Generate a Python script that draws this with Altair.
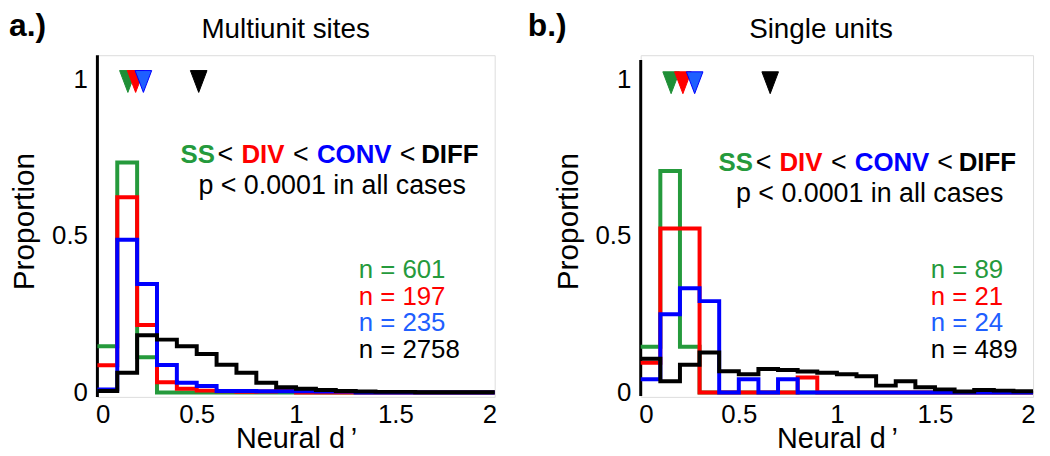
import altair as alt
import pandas as pd

# ---------------- data ----------------
BIN_START = [0.0, 0.1, 0.2, 0.3, 0.4, 0.5, 0.6, 0.7, 0.8, 0.9,
             1.0, 1.1, 1.2, 1.3, 1.4, 1.5, 1.6, 1.7, 1.8, 1.9]
BIN_END = 2.0

# a.) Multiunit sites
L_SS = [0.148, 0.735, 0.113, 0, 0, 0, 0, 0, 0, 0, 0, 0, 0, 0, 0, 0, 0, 0, 0, 0]
L_DIV = [0.087, 0.624, 0.216, 0.033, 0.012, 0.006, 0.004, 0.002, 0.003, 0.007,
         0, 0, 0, 0, 0, 0, 0, 0, 0, 0]
L_CONV = [0.010, 0.488, 0.347, 0.088, 0.031, 0.021, 0.005, 0.005, 0.004, 0.004,
          0.004, 0.003, 0.003, 0, 0, 0, 0, 0, 0, 0]
L_DIFF = [0.005, 0.063, 0.183, 0.169, 0.148, 0.123, 0.089, 0.063, 0.031, 0.017,
          0.012, 0.008, 0.005, 0.003, 0.002, 0.002, 0.001, 0.001, 0.001, 0.001]

# b.) Single units
R_SS = [0.146, 0.708, 0.146, 0, 0, 0, 0, 0, 0, 0, 0, 0, 0, 0, 0, 0, 0, 0, 0, 0]
R_DIV = [0.095, 0.524, 0.524, 0, 0, 0, 0, 0, 0.048, 0, 0, 0, 0, 0, 0, 0, 0, 0, 0, 0]
R_CONV = [0.042, 0.250, 0.333, 0.292, 0, 0.042, 0, 0.042, 0, 0, 0, 0, 0, 0, 0, 0, 0, 0, 0, 0]
R_DIFF = [0.108, 0.036, 0.089, 0.128, 0.068, 0.058, 0.075, 0.072, 0.067, 0.063,
          0.058, 0.052, 0.022, 0.036, 0.017, 0.010, 0.003, 0.008, 0.006, 0.004]

SERIES = ["SS", "DIV", "CONV", "DIFF"]
LINE_COLORS = ["#259a3c", "#ff0000", "#0000ff", "#000000"]
TEXT_COLORS = ["#259a3c", "#ff0000", "#1f5fff", "#000000"]
TRI_FILL = ["#1f8f36", "#ff0000", "#1f5fff", "#000000"]
TRI_STROKE = ["#1f8f36", "#ff0000", "#0000ff", "#000000"]

L_N = ["n = 601", "n = 197", "n = 235", "n = 2758"]
R_N = ["n = 89", "n = 21", "n = 24", "n = 489"]

# mean markers (triangles)
L_TRI_X = [0.1535, 0.1925, 0.2315, 0.51]
R_TRI_X = [0.155, 0.215, 0.275, 0.66]

# annotation anchors (data units)
L_INFO = dict(letter="a.)", letter_x=-0.445, title="Multiunit sites", title_x=0.9475,
              word_x=[0.4185, 0.725, 1.105, 1.63], lt_x=[0.605, 0.985, 1.5215], cmp_y=0.735,
              p_x=1.1815, p_y=0.634, n_x=1.315, tri_y=0.994, axis_top=1.078, axis_bot=-0.014,
              width=400)
R_INFO = dict(letter="b.)", letter_x=-0.576, title="Single units", title_x=0.919,
              word_x=[0.397, 0.707, 1.091, 1.621], lt_x=[0.586, 0.97, 1.512], cmp_y=0.7086,
              p_x=1.167, p_y=0.608, n_x=1.478, tri_y=0.99, axis_top=1.063, axis_bot=-0.011,
              width=395)
N_Y = [0.3667, 0.2810, 0.1952, 0.1095]
LETTER_Y = 1.138
TITLE_Y = 1.1317

X_TICKS = [0, 0.5, 1, 1.5, 2]
Y_TICKS = [0, 0.5, 1]
Y_DOMAIN = [-0.014, 1.078]

FONT = "Liberation Sans"

xscale = alt.Scale(domain=[0, 2], nice=False, zero=False)
yscale = alt.Scale(domain=Y_DOMAIN, nice=False, zero=False)
xaxis = alt.Axis(values=X_TICKS, format="~g", title="Neural d\u2009’", domain=False,
                 ticks=False, grid=False, labelPadding=5, labelFontSize=26, titleFontSize=29,
                 titleFontWeight="normal", titlePadding=-3, labelColor="black",
                 titleColor="black", labelFont=FONT, titleFont=FONT, labelFlush=True,
                 labelFlushOffset=2)
yaxis = alt.Axis(values=Y_TICKS, format="~g", title="Proportion", domain=False, ticks=False,
                 grid=False, labelPadding=10, labelFontSize=26, titleFontSize=30,
                 titleFontWeight="normal", titlePadding=12, labelColor="black",
                 titleColor="black", labelFont=FONT, titleFont=FONT, titleY=167)


def xenc(field):
    return alt.X(field, type="quantitative", scale=xscale, axis=xaxis)


def yenc(field):
    return alt.Y(field, type="quantitative", scale=yscale, axis=yaxis)


def panel(vals, ns, tri_x, info):
    layers = []
    # axis line
    ax_df = pd.DataFrame({"x": [0.0], "y": [info["axis_bot"]], "y2": [info["axis_top"]]})
    layers.append(alt.Chart(ax_df).mark_rule(color="black", strokeWidth=3).encode(
        x=xenc("x"), y=yenc("y"), y2="y2"))
    # step histograms
    for name, v, col in zip(SERIES, vals, LINE_COLORS):
        df = pd.DataFrame({"x": BIN_START + [BIN_END], "y": v + [v[-1]]})
        layers.append(alt.Chart(df).mark_line(
            interpolate="step-after", color=col, strokeWidth=4, strokeCap="butt",
            strokeJoin="miter").encode(x=xenc("x"), y=yenc("y")))
    # triangles
    tri_df = pd.DataFrame({"x": tri_x, "y": [info["tri_y"]] * 4, "f": TRI_FILL, "s": TRI_STROKE})
    layers.append(alt.Chart(tri_df).mark_point(
        shape="M -0.76 -1 L 0.76 -1 L 0 1 Z", filled=True, size=484, strokeWidth=1,
        opacity=1).encode(x=xenc("x"), y=yenc("y"),
                          fill=alt.Fill("f:N", scale=None),
                          stroke=alt.Stroke("s:N", scale=None)))
    # panel letter
    let_df = pd.DataFrame({"x": [info["letter_x"]], "y": [LETTER_Y], "t": [info["letter"]]})
    layers.append(alt.Chart(let_df).mark_text(
        align="left", baseline="alphabetic", fontSize=32, fontWeight="bold", font=FONT,
        color="black").encode(x=xenc("x"), y=yenc("y"), text="t:N"))
    # title
    tt_df = pd.DataFrame({"x": [info["title_x"]], "y": [TITLE_Y], "t": [info["title"]]})
    layers.append(alt.Chart(tt_df).mark_text(
        align="center", baseline="alphabetic", fontSize=28, font=FONT,
        color="black").encode(x=xenc("x"), y=yenc("y"), text="t:N"))
    # comparison words
    w_df = pd.DataFrame({"x": info["word_x"], "y": [info["cmp_y"]] * 4, "t": SERIES,
                         "c": LINE_COLORS})
    layers.append(alt.Chart(w_df).mark_text(
        align="left", baseline="alphabetic", fontSize=26, fontWeight="bold", font=FONT).encode(
        x=xenc("x"), y=yenc("y"), text="t:N", color=alt.Color("c:N", scale=None)))
    lt_df = pd.DataFrame({"x": info["lt_x"], "y": [info["cmp_y"]] * 3, "t": ["<"] * 3})
    layers.append(alt.Chart(lt_df).mark_text(
        align="left", baseline="alphabetic", fontSize=27, font=FONT, color="black").encode(
        x=xenc("x"), y=yenc("y"), text="t:N"))
    p_df = pd.DataFrame({"x": [info["p_x"]], "y": [info["p_y"]], "t": ["p < 0.0001 in all cases"]})
    layers.append(alt.Chart(p_df).mark_text(
        align="center", baseline="alphabetic", fontSize=27, font=FONT, color="black").encode(
        x=xenc("x"), y=yenc("y"), text="t:N"))
    # n labels
    n_df = pd.DataFrame({"x": [info["n_x"]] * 4, "y": N_Y, "t": ns, "c": TEXT_COLORS})
    layers.append(alt.Chart(n_df).mark_text(
        align="left", baseline="alphabetic", fontSize=26, font=FONT).encode(
        x=xenc("x"), y=yenc("y"), text="t:N", color=alt.Color("c:N", scale=None)))
    return alt.layer(*layers).properties(width=info["width"], height=344)


left = panel([L_SS, L_DIV, L_CONV, L_DIFF], L_N, L_TRI_X, L_INFO)
right = panel([R_SS, R_DIV, R_CONV, R_DIFF], R_N, R_TRI_X, R_INFO)

chart = alt.HConcatChart(hconcat=[left, right], spacing=147, bounds="flush", padding=0)
chart = chart.configure_view(stroke=None).configure(font=FONT)

chart.save("out.html", embed_options={"renderer": "svg", "actions": False})
